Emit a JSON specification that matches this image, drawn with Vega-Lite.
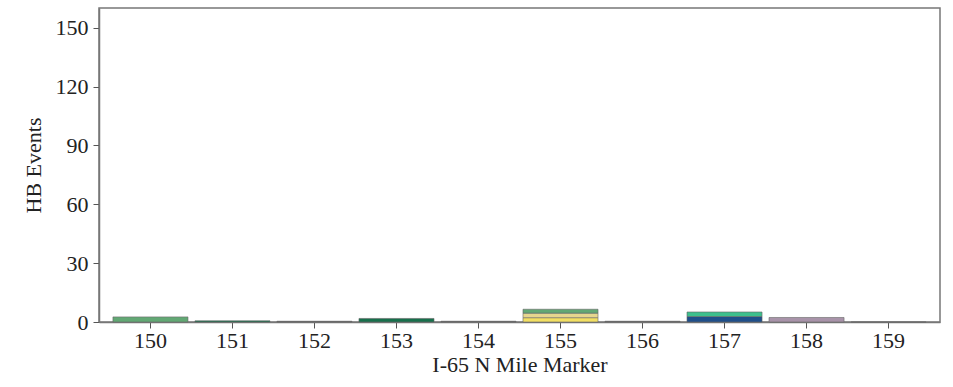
{
  "$schema": "https://vega.github.io/schema/vega-lite/v6.json",
  "width": 841,
  "height": 314,
  "autosize": {"type": "none"},
  "padding": {"left": 99, "top": 8, "right": 13, "bottom": 65},
  "background": "white",
  "config": {
    "view": {"stroke": "#777777", "strokeWidth": 1.5},
    "font": "Liberation Serif",
    "axis": {"labelFont": "Liberation Serif", "titleFont": "Liberation Serif", "labelColor": "#222222", "titleColor": "#222222", "titleFontWeight": "normal", "grid": false, "domainColor": "#777777", "tickColor": "#555555", "domainWidth": 1.5}
  },
  "data": {
    "values": [
      {"mile": "150", "series": "A", "events": 2.6, "ord": 1},
      {"mile": "151", "series": "B", "events": 0.6, "ord": 1},
      {"mile": "152", "series": "H", "events": 0.4, "ord": 1},
      {"mile": "153", "series": "B", "events": 1.8, "ord": 1},
      {"mile": "154", "series": "H", "events": 0.4, "ord": 1},
      {"mile": "155", "series": "D", "events": 2.2, "ord": 1},
      {"mile": "155", "series": "C", "events": 2.3, "ord": 2},
      {"mile": "155", "series": "A", "events": 2.0, "ord": 3},
      {"mile": "156", "series": "H", "events": 0.4, "ord": 1},
      {"mile": "157", "series": "F", "events": 2.8, "ord": 1},
      {"mile": "157", "series": "E", "events": 2.3, "ord": 2},
      {"mile": "158", "series": "G", "events": 2.3, "ord": 1},
      {"mile": "159", "series": "H", "events": 0, "ord": 1}
    ]
  },
  "mark": {"type": "bar", "stroke": "#666666", "strokeWidth": 0.6},
  "encoding": {
    "x": {
      "field": "mile", "type": "ordinal",
      "scale": {"paddingInner": 0.085, "paddingOuter": 0.17},
      "axis": {"title": "I-65 N Mile Marker", "labelAngle": 0, "labelFontSize": 22, "titleFontSize": 22, "tickSize": 6, "labelPadding": 2, "titlePadding": 3}
    },
    "y": {
      "field": "events", "type": "quantitative", "stack": "zero",
      "scale": {"domain": [0, 160], "nice": false},
      "axis": {"title": "HB Events", "values": [0, 30, 60, 90, 120, 150], "labelFontSize": 22, "titleFontSize": 22, "tickSize": 6, "labelPadding": 5, "titlePadding": 10}
    },
    "color": {
      "field": "series", "type": "nominal", "legend": null,
      "scale": {"domain": ["A", "B", "C", "D", "E", "F", "G", "H"], "range": ["#62a874", "#17704c", "#e6d68e", "#f2df63", "#3dbf8d", "#1f4f8a", "#a893a9", "#666666"]}
    },
    "order": {"field": "ord", "type": "quantitative"}
  }
}
